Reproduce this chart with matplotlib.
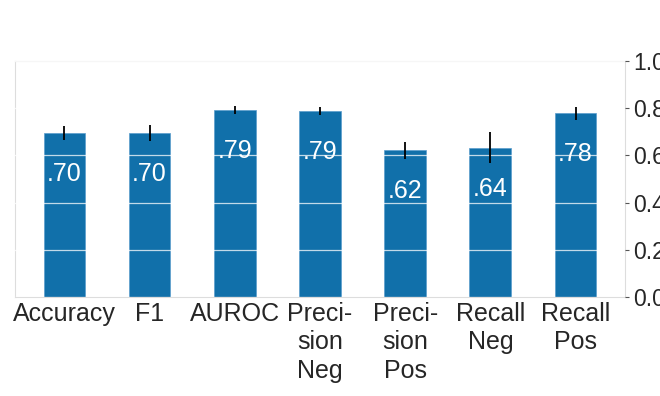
import matplotlib.pyplot as plt

plt.rcParams['font.family'] = ['Liberation Sans', 'DejaVu Sans']

# Metric names and mean scores with their spread
metrics = ['Accuracy', 'F1', 'AUROC', 'Preci-\nsion\nNeg', 'Preci-\nsion\nPos', 'Recall\nNeg', 'Recall\nPos']
scores = [0.695, 0.695, 0.792, 0.788, 0.622, 0.633, 0.779]
errors = [0.030, 0.035, 0.017, 0.016, 0.037, 0.067, 0.027]
labels = ['.70', '.70', '.79', '.79', '.62', '.64', '.78']

fig = plt.figure(figsize=(6.6, 3.96), dpi=100)
ax = fig.add_axes([0.0227, 0.2508, 0.9242, 0.5944])

x = range(len(metrics))
bars = ax.bar(x, scores, width=0.49, color='#1170aa', edgecolor='#5a9ccc', linewidth=0.5, zorder=2)
ax.errorbar(x, scores, yerr=errors, fmt='none', ecolor='black', elinewidth=1.3, capsize=0, zorder=4)

# Score labels inside the top of each bar
for bar, text in zip(bars, labels):
    ax.text(bar.get_x() + bar.get_width() / 2, bar.get_height() - 0.123, text,
            ha='center', va='top', color='white', fontsize=18, zorder=5)

ax.set_xlim(-0.58, 6.58)
ax.set_ylim(0, 1.0)
ax.set_xticks(list(x))
ax.set_xticklabels(metrics, fontsize=18, color='#262626', linespacing=1.22)
ax.set_yticks([0.0, 0.2, 0.4, 0.6, 0.8, 1.0])
ax.set_yticklabels(['0.0', '0.2', '0.4', '0.6', '0.8', '1.0'], fontsize=16.5, color='#262626')
ax.yaxis.tick_right()
ax.tick_params(axis='x', length=0, pad=4)
ax.tick_params(axis='y', length=3, width=0.8, color='#555555', pad=3)

ax.grid(axis='y', color='white', linewidth=0.9, alpha=0.75, zorder=3)
ax.set_axisbelow(False)
for spine in ax.spines.values():
    spine.set_color('#dddddd')
    spine.set_linewidth(0.8)

plt.savefig('out.png', dpi=100)
